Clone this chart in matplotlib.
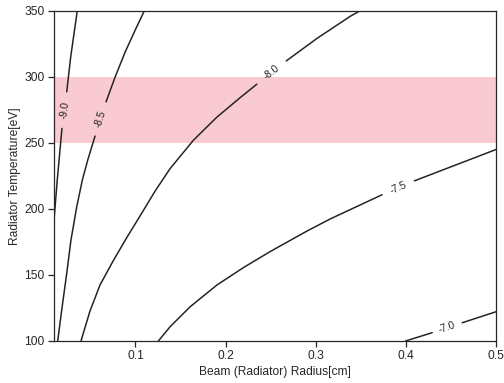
import numpy as np
import matplotlib
matplotlib.use('Agg')
import matplotlib.pyplot as plt
import seaborn as sns

sns.set_theme(style='ticks', context='notebook')
plt.rcParams['font.family'] = ['Liberation Sans', 'DejaVu Sans']
plt.rcParams['xtick.labelsize'] = 12
plt.rcParams['ytick.labelsize'] = 12

levels = [-9.0, -8.5, -8.0, -7.5, -7.0]

# each iso-line is kept as two pieces: below and above its label
r_90_a = [0.010, 0.0133, 0.0185]
t_90_a = [194.0, 221.8, 260.9]
r_90_b = [0.0238, 0.0282, 0.0355]
t_90_b = [288.6, 315.0, 350.0]

r_85_a = [0.0138, 0.0178, 0.0238, 0.0285, 0.0349, 0.0411, 0.0471, 0.0552]
t_85_a = [100.0, 121.2, 151.2, 176.4, 201.6, 221.8, 237.0, 255.1]
r_85_b = [0.0674, 0.0774, 0.0885, 0.0996, 0.1099]
t_85_b = [281.0, 299.7, 318.6, 335.2, 350.0]

r_80_a = [0.0396, 0.0496, 0.0607, 0.0755, 0.0904, 0.1070, 0.1218, 0.1384,
          0.1643, 0.1902, 0.2161, 0.2346]
t_80_a = [100.0, 122.7, 142.4, 160.9, 178.3, 196.8, 213.5, 230.5,
          252.0, 269.4, 284.2, 294.4]
r_80_b = [0.2672, 0.3012, 0.3382, 0.3493]
t_80_b = [312.0, 329.0, 345.8, 350.0]

r_75_a = [0.1254, 0.1384, 0.1606, 0.1902, 0.2198, 0.2494, 0.2901, 0.3160, 0.3734]
t_75_a = [100.0, 110.8, 125.9, 142.3, 155.6, 167.7, 183.2, 192.4, 210.7]
r_75_b = [0.4092, 0.5]
t_75_b = [221.2, 245.0]

r_70_a = [0.3994, 0.4290]
t_70_a = [100.0, 106.3]
r_70_b = [0.4622, 0.5]
t_70_b = [113.8, 122.2]

pieces = {
    -9.0: ((r_90_a, t_90_a), (r_90_b, t_90_b)),
    -8.5: ((r_85_a, t_85_a), (r_85_b, t_85_b)),
    -8.0: ((r_80_a, t_80_a), (r_80_b, t_80_b)),
    -7.5: ((r_75_a, t_75_a), (r_75_b, t_75_b)),
    -7.0: ((r_70_a, t_70_a), (r_70_b, t_70_b)),
}

band_lo, band_hi = 250, 300
line_col = '#222222'

fig = plt.figure(figsize=(504 / 72, 383 / 72), dpi=72)
ax = fig.add_axes([0.1077, 0.1097, 0.877, 0.8624])
ax.axhspan(band_lo, band_hi, color='#f9cad2', lw=0, zorder=0)
ax.set_xlim(0.01, 0.5)
ax.set_ylim(100, 350)

for lvl in levels:
    (ra, ta), (rb, tb) = pieces[lvl]
    ax.plot(ra, ta, color=line_col, lw=1.5, zorder=2)
    ax.plot(rb, tb, color=line_col, lw=1.5, zorder=2)
    # label sits in the gap, turned along the line
    p0 = ax.transData.transform((ra[-1], ta[-1]))
    p1 = ax.transData.transform((rb[0], tb[0]))
    ang = np.degrees(np.arctan2(p1[1] - p0[1], p1[0] - p0[0]))
    if ang > 90:
        ang -= 180
    elif ang < -90:
        ang += 180
    xm = (ra[-1] + rb[0]) / 2
    ym = (ta[-1] + tb[0]) / 2
    ax.text(xm, ym, f'{lvl:.1f}', rotation=ang, rotation_mode='anchor',
            ha='center', va='center', fontsize=10, color=line_col, zorder=3)

ax.set_xticks([0.1, 0.2, 0.3, 0.4, 0.5])
ax.set_yticks([100, 150, 200, 250, 300, 350])
ax.set_xlabel('Beam (Radiator) Radius[cm]', fontsize=12)
ax.set_ylabel('Radiator Temperature[eV]', fontsize=12)

fig.savefig('out.png', dpi=72)
